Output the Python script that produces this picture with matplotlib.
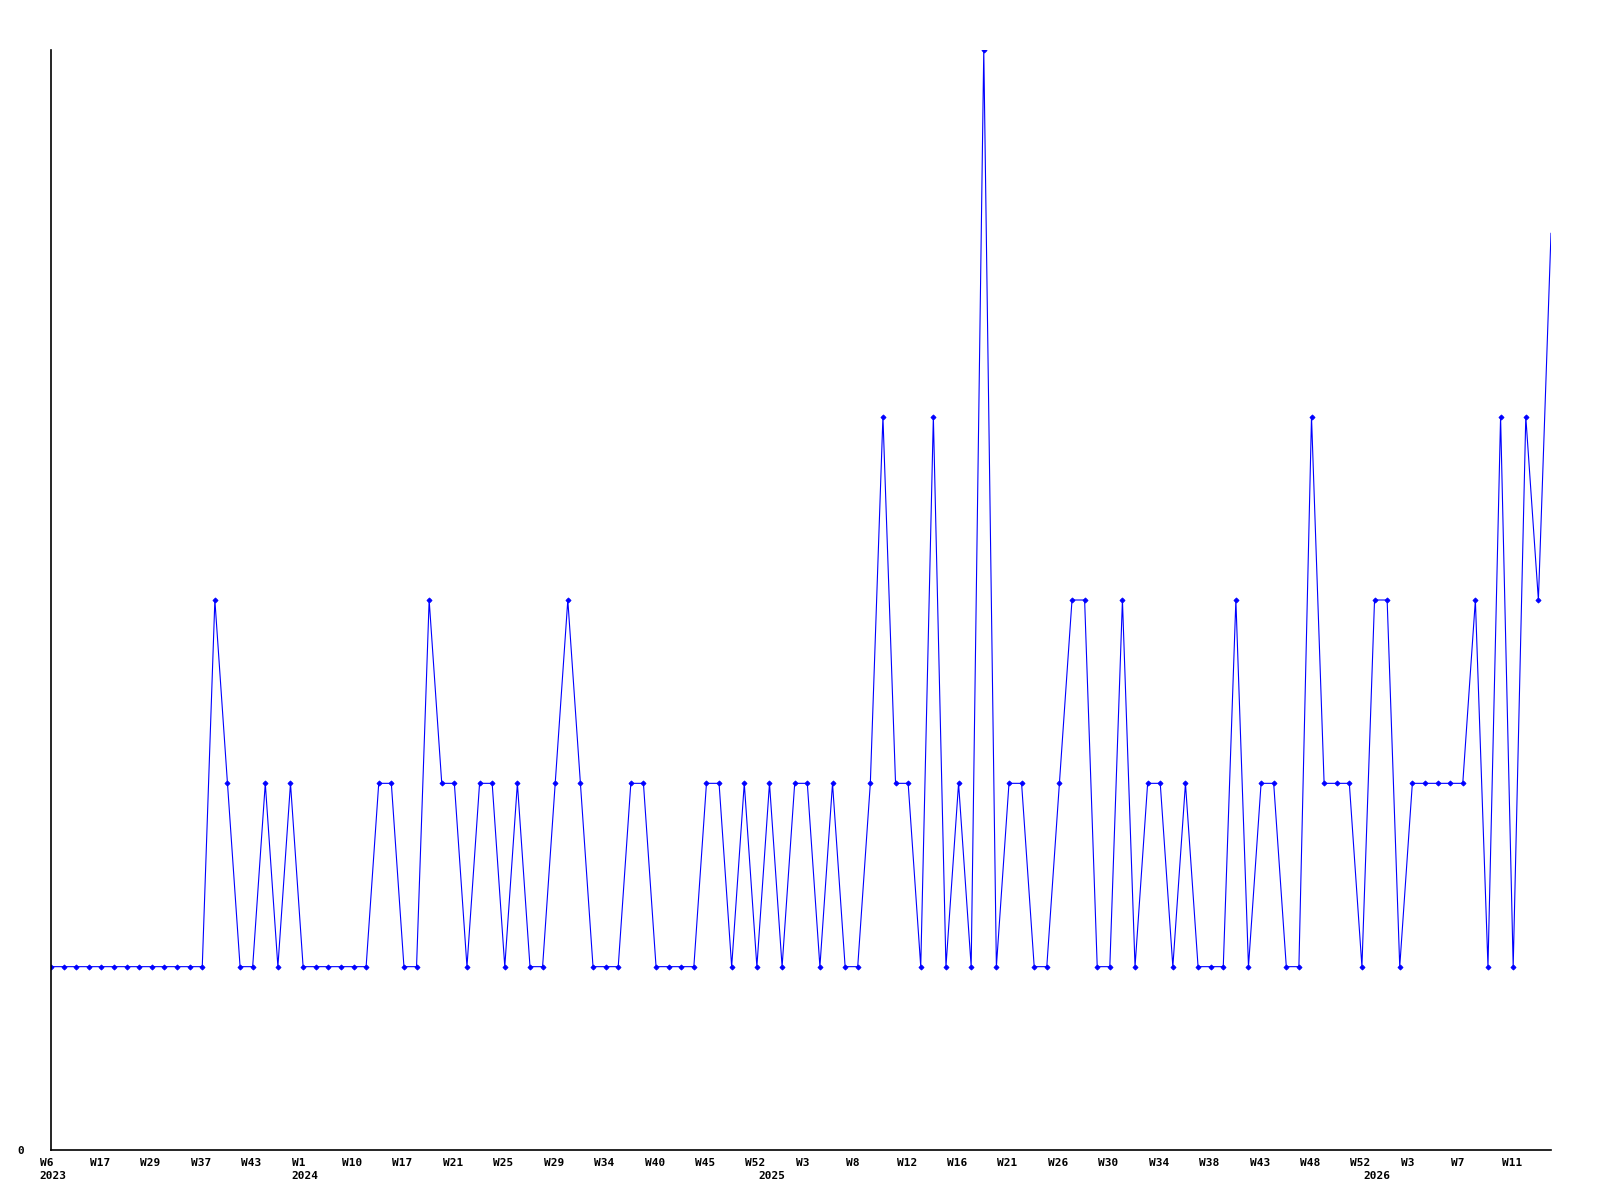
import matplotlib
matplotlib.use("Agg")
import matplotlib.pyplot as plt
import matplotlib.transforms as mtransforms

# ── data: one point per reported week (weeks without data are skipped) ──────
values = [
    1, 1, 1, 1, 1, 1, 1, 1, 1, 1, 1, 1, 1, 3, 2, 1, 1, 2, 1, 2,
    1, 1, 1, 1, 1, 1, 2, 2, 1, 1, 3, 2, 2, 1, 2, 2, 1, 2, 1, 1,
    2, 3, 2, 1, 1, 1, 2, 2, 1, 1, 1, 1, 2, 2, 1, 2, 1, 2, 1, 2,
    2, 1, 2, 1, 1, 2, 4, 2, 2, 1, 4, 1, 2, 1, 6, 1, 2, 2, 1, 1,
    2, 3, 3, 1, 1, 3, 1, 2, 2, 1, 2, 1, 1, 1, 3, 1, 2, 2, 1, 1,
    4, 2, 2, 2, 1, 3, 3, 1, 2, 2, 2, 2, 2, 3, 1, 4, 1, 4, 3, 5,
]

# week labels shown every 4th point
week_labels = ["W6", "W17", "W29", "W37", "W43", "W1", "W10", "W17", "W21", "W25",
               "W29", "W34", "W40", "W45", "W52", "W3", "W8", "W12", "W16", "W21",
               "W26", "W30", "W34", "W38", "W43", "W48", "W52", "W3", "W7", "W11"]
# year labels sit at the first point of each year
year_pos = [0, 20, 57, 105]
year_labels = ["2023", "2024", "2025", "2026"]

LABEL_STEP = 4

# ── plot ──────────────────────────────────────────────────────────────────────
plt.rcParams["font.family"] = ["DejaVu Sans Mono"]
plt.rcParams["font.weight"] = "bold"

fig = plt.figure(figsize=(16, 12), dpi=100)
ax = fig.add_axes([51 / 1600, 50 / 1200, 1500 / 1600, 1100 / 1200])

x = list(range(len(values)))
ax.plot(x, values, color="#0000ff", lw=0.8, marker="D", markersize=2.6,
        markeredgewidth=0.6, markevery=list(range(len(values) - 1)))

ax.set_xlim(0, len(values) - 1)
ax.set_ylim(0, 6)

for s in ("top", "right"):
    ax.spines[s].set_visible(False)
for s in ("left", "bottom"):
    ax.spines[s].set_linewidth(1.2)
    ax.spines[s].set_color("black")

# week tick labels, left-aligned a little before each point
shift = mtransforms.ScaledTranslation(-11.5 / 100, 0, fig.dpi_scale_trans)
ax.set_xticks([i * LABEL_STEP for i in range(len(week_labels))])
ax.set_xticklabels(week_labels, fontsize=8, fontweight="bold", ha="left", va="top")
ax.tick_params(axis="x", length=0, pad=5.5)
for lbl in ax.get_xticklabels():
    lbl.set_transform(lbl.get_transform() + shift)

# year labels on a second row
for pos, yr in zip(year_pos, year_labels):
    ax.annotate(yr, xy=(pos, 0), xycoords=("data", "axes fraction"),
                xytext=(-11.5, -21), textcoords="offset pixels",
                ha="left", va="top", fontsize=8, fontweight="bold",
                annotation_clip=False)

ax.set_yticks([0])
ax.set_yticklabels(["0"], fontsize=8, fontweight="bold")
ax.tick_params(axis="y", length=0, pad=19)

fig.savefig("out.png", dpi=100)
